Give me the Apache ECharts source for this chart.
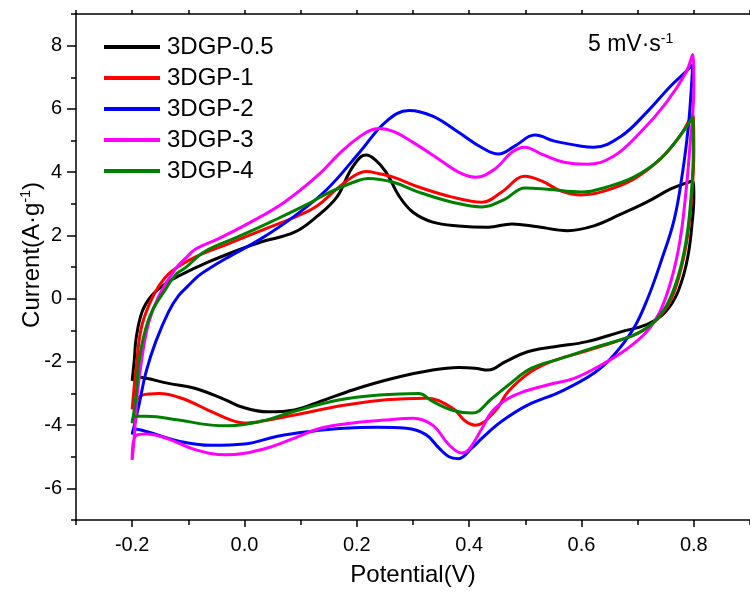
<!DOCTYPE html>
<html>
<head>
<meta charset="utf-8">
<script src="https://cdn.jsdelivr.net/npm/echarts@6/dist/echarts.min.js"></script>
<style>
  html, body { margin: 0; padding: 0; background: #fff; }
  #chart { width: 750px; height: 592px; }
</style>
</head>
<body>
<div id="chart"></div>
<script>
// CV curves at 5 mV/s, [potential V, current A/g], forward sweep then reverse
var names = ['3DGP-0.5', '3DGP-1', '3DGP-2', '3DGP-3', '3DGP-4']
var colors = ['#000000', '#ff0000', '#0000ff', '#ff00ff', '#008000']

var cv05 = [[-0.2,-2.6],[-0.196,-1.9],[-0.193,-1.26],[-0.182,-0.4],[-0.165,0.1],[-0.14,0.48],[-0.117,0.72],[-0.064,1.16],[-0.006,1.57],[0.029,1.79],[0.089,2.1],[0.129,2.6],[0.164,3.2],[0.187,4.0],[0.205,4.45],[0.217,4.54],[0.232,4.4],[0.252,4.0],[0.275,3.25],[0.3,2.73],[0.335,2.42],[0.381,2.3],[0.434,2.26],[0.476,2.36],[0.522,2.27],[0.575,2.15],[0.622,2.3],[0.67,2.67],[0.716,3.05],[0.758,3.46],[0.781,3.62],[0.798,3.72],[0.8,3.2],[0.797,2.4],[0.791,1.5],[0.781,0.7],[0.766,0.0],[0.745,-0.5],[0.716,-0.82],[0.67,-1.05],[0.61,-1.36],[0.552,-1.52],[0.504,-1.68],[0.464,-2.0],[0.434,-2.26],[0.41,-2.2],[0.381,-2.18],[0.335,-2.26],[0.265,-2.52],[0.194,-2.88],[0.135,-3.25],[0.089,-3.52],[0.041,-3.58],[-0.006,-3.42],[-0.034,-3.2],[-0.087,-2.84],[-0.135,-2.68],[-0.175,-2.52],[-0.19,-2.48],[-0.2,-2.6]]

var cv1 = [[-0.2,-3.5],[-0.193,-2.2],[-0.184,-0.95],[-0.17,-0.2],[-0.152,0.41],[-0.13,0.86],[-0.087,1.32],[-0.029,1.73],[0.036,2.2],[0.094,2.61],[0.129,2.93],[0.164,3.46],[0.194,3.87],[0.217,4.02],[0.24,3.95],[0.265,3.84],[0.31,3.53],[0.37,3.21],[0.423,3.05],[0.458,3.37],[0.499,3.87],[0.529,3.72],[0.564,3.4],[0.6,3.28],[0.64,3.4],[0.693,3.78],[0.74,4.41],[0.775,5.13],[0.798,5.83],[0.8,4.63],[0.796,3.2],[0.789,2.0],[0.778,1.0],[0.76,0.0],[0.735,-0.65],[0.705,-1.05],[0.657,-1.38],[0.6,-1.7],[0.552,-1.95],[0.511,-2.3],[0.47,-2.93],[0.446,-3.56],[0.411,-4.0],[0.393,-3.87],[0.37,-3.46],[0.323,-3.15],[0.252,-3.2],[0.177,-3.37],[0.089,-3.68],[0.029,-3.88],[0.0,-3.93],[-0.024,-3.84],[-0.064,-3.53],[-0.112,-3.15],[-0.152,-3.0],[-0.182,-3.05],[-0.2,-3.5]]

var cv2 = [[-0.2,-4.3],[-0.188,-3.37],[-0.175,-2.3],[-0.158,-1.36],[-0.135,-0.41],[-0.117,0.1],[-0.1,0.41],[-0.082,0.72],[-0.064,0.94],[-0.034,1.26],[0.029,1.89],[0.089,2.61],[0.147,3.46],[0.205,4.63],[0.252,5.6],[0.293,5.95],[0.335,5.77],[0.381,5.26],[0.423,4.77],[0.452,4.57],[0.481,4.82],[0.517,5.17],[0.552,4.98],[0.6,4.82],[0.622,4.79],[0.67,5.13],[0.716,5.89],[0.758,6.71],[0.786,7.18],[0.798,7.4],[0.795,6.5],[0.79,5.4],[0.78,4.0],[0.765,2.5],[0.742,1.2],[0.719,0.06],[0.693,-0.94],[0.657,-1.8],[0.622,-2.36],[0.564,-2.93],[0.504,-3.37],[0.458,-3.88],[0.423,-4.41],[0.405,-4.72],[0.381,-5.06],[0.364,-5.0],[0.346,-4.72],[0.323,-4.3],[0.288,-4.1],[0.235,-4.07],[0.177,-4.1],[0.117,-4.2],[0.059,-4.35],[0.0,-4.6],[-0.059,-4.64],[-0.117,-4.51],[-0.175,-4.2],[-0.196,-4.12],[-0.2,-4.3]]

var cv3 = [[-0.2,-5.1],[-0.196,-4.3],[-0.191,-3.05],[-0.182,-1.8],[-0.17,-0.73],[-0.152,0.1],[-0.123,0.94],[-0.1,1.36],[-0.087,1.57],[-0.047,1.89],[0.011,2.42],[0.071,3.05],[0.129,3.87],[0.177,4.72],[0.217,5.26],[0.24,5.38],[0.265,5.29],[0.3,4.94],[0.346,4.41],[0.381,4.0],[0.411,3.84],[0.446,4.1],[0.476,4.63],[0.499,4.79],[0.529,4.57],[0.569,4.31],[0.61,4.25],[0.657,4.5],[0.705,5.26],[0.751,6.2],[0.786,7.15],[0.798,7.72],[0.8,6.71],[0.793,4.8],[0.785,3.2],[0.775,1.8],[0.76,0.6],[0.74,-0.4],[0.716,-1.05],[0.68,-1.6],[0.635,-2.1],[0.587,-2.52],[0.539,-2.73],[0.499,-2.93],[0.47,-3.15],[0.441,-3.56],[0.423,-4.1],[0.399,-4.78],[0.387,-4.88],[0.364,-4.62],[0.335,-4.0],[0.3,-3.78],[0.252,-3.84],[0.194,-3.93],[0.135,-4.1],[0.089,-4.41],[0.029,-4.78],[-0.034,-4.94],[-0.087,-4.78],[-0.14,-4.41],[-0.175,-4.28],[-0.193,-4.32],[-0.2,-5.1]]

var cv4 = [[-0.2,-3.94],[-0.193,-3.05],[-0.188,-2.0],[-0.179,-1.16],[-0.165,-0.41],[-0.14,0.31],[-0.123,0.75],[-0.105,0.98],[-0.07,1.5],[-0.012,1.95],[0.046,2.42],[0.106,2.93],[0.152,3.37],[0.194,3.68],[0.22,3.8],[0.265,3.68],[0.31,3.37],[0.37,3.05],[0.423,2.9],[0.464,3.15],[0.499,3.5],[0.539,3.46],[0.6,3.37],[0.645,3.53],[0.693,3.84],[0.74,4.41],[0.78,5.26],[0.798,5.73],[0.799,4.63],[0.794,3.0],[0.786,1.8],[0.772,0.7],[0.752,-0.2],[0.728,-0.75],[0.7,-1.1],[0.67,-1.3],[0.622,-1.55],[0.564,-1.89],[0.511,-2.2],[0.47,-2.73],[0.441,-3.15],[0.405,-3.62],[0.37,-3.53],[0.335,-3.25],[0.31,-3.0],[0.24,-3.05],[0.17,-3.2],[0.089,-3.56],[0.029,-3.88],[-0.029,-4.02],[-0.059,-4.0],[-0.117,-3.84],[-0.175,-3.72],[-0.196,-3.72],[-0.2,-3.94]]

var curves = [cv05, cv1, cv2, cv3, cv4]
var xMajor = [-0.2, 0, 0.2, 0.4, 0.6, 0.8]
var yMajor = [-6, -4, -2, 0, 2, 4, 6, 8]

var font = '"Liberation Sans", Arial, sans-serif'
var axisColor = { color: '#000', width: 1.5 }
var supStyle = { fontSize: 14, verticalAlign: 'top', padding: [0, 0, 12, 0], color: '#000', fontFamily: font }

var chart = echarts.init(document.getElementById('chart'))
chart.setOption({
  animation: false,
  textStyle: { fontFamily: font },
  title: {
    text: '5 mV·s{sup|-1}',
    left: 588,
    top: 32,
    padding: 0,
    textStyle: {
      fontFamily: font,
      fontSize: 23,
      fontWeight: 'normal',
      color: '#000',
      rich: { sup: supStyle }
    }
  },
  legend: {
    orient: 'vertical',
    left: 104,
    top: 35,
    padding: 0,
    icon: 'rect',
    itemWidth: 56,
    itemHeight: 4,
    itemGap: 7,
    data: names,
    textStyle: { fontSize: 24, color: '#000', fontFamily: font, padding: [0, 0, 0, 2] }
  },
  grid: { left: 76, top: 14, width: 682, height: 508 },
  xAxis: [{
    type: 'value',
    min: -0.3,
    max: 0.9,
    interval: 0.1,
    name: 'Potential(V)',
    nameLocation: 'middle',
    nameGap: 43,
    nameTextStyle: { fontSize: 24, color: '#000' },
    axisLine: { onZero: false, lineStyle: axisColor },
    axisTick: { length: 5, lineStyle: axisColor },
    axisLabel: {
      customValues: xMajor,
      fontSize: 20, color: '#000', margin: 15,
      formatter: function (v) { return v.toFixed(1) }
    },
    splitLine: { show: false }
  }, {
    type: 'value',
    position: 'bottom',
    min: -0.3,
    max: 0.9,
    axisLine: { show: false, onZero: false },
    axisTick: { customValues: xMajor, length: 7, lineStyle: axisColor },
    axisLabel: { show: false },
    splitLine: { show: false }
  }, {
    type: 'value',
    position: 'top',
    min: -0.3,
    max: 0.9,
    interval: 0.1,
    axisLine: { onZero: false, lineStyle: axisColor },
    axisTick: { length: 4, lineStyle: axisColor },
    axisLabel: { show: false },
    splitLine: { show: false }
  }],
  yAxis: [{
    type: 'value',
    min: -7,
    max: 9,
    interval: 1,
    name: 'Current(A·g{sup|-1})',
    nameLocation: 'middle',
    nameGap: 31,
    nameMoveOverlap: false,
    nameTextStyle: {
      fontSize: 24, color: '#000',
      padding: [0, 0, 0, 24],
      rich: { sup: supStyle }
    },
    axisLine: { onZero: false, lineStyle: axisColor },
    axisTick: { length: 5, lineStyle: axisColor },
    axisLabel: {
      fontSize: 20, color: '#000', margin: 14,
      formatter: function (v) { return v % 2 === 0 ? String(v) : '' }
    },
    splitLine: { show: false }
  }, {
    type: 'value',
    position: 'left',
    min: -7,
    max: 9,
    axisLine: { show: false, onZero: false },
    axisTick: { customValues: yMajor, length: 9, lineStyle: axisColor },
    axisLabel: { show: false },
    splitLine: { show: false }
  }],
  series: curves.map(function (d, i) {
    return {
      name: names[i],
      type: 'line',
      data: d,
      symbol: 'none',
      smooth: 0.4,
      lineStyle: { color: colors[i], width: 3 },
      itemStyle: { color: colors[i] }
    }
  })
})
</script>
</body>
</html>
